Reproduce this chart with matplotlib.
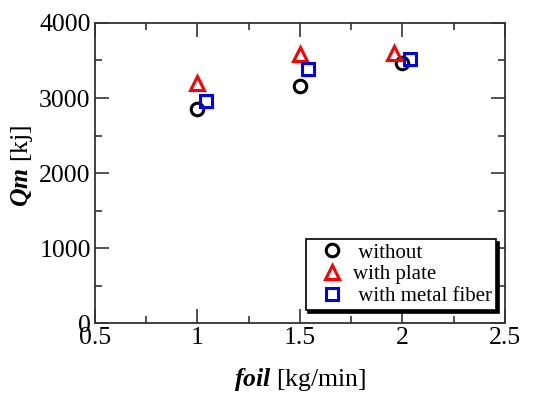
import matplotlib
matplotlib.use("Agg")
import matplotlib.pyplot as plt
from matplotlib.ticker import MultipleLocator

plt.rcParams['font.family'] = ['Liberation Serif', 'DejaVu Serif']
plt.rcParams['mathtext.fontset'] = 'custom'
plt.rcParams['mathtext.rm'] = 'Liberation Serif'
plt.rcParams['mathtext.it'] = 'Liberation Serif:italic'
plt.rcParams['mathtext.bf'] = 'Liberation Serif:bold'
plt.rcParams['mathtext.bfit'] = 'Liberation Serif:italic:bold'

# data
x_without = [1.0, 1.5, 2.0]
y_without = [2860, 3165, 3465]
x_plate = [1.0, 1.5, 1.96]
y_plate = [3205, 3590, 3600]
x_fiber = [1.04, 1.54, 2.04]
y_fiber = [2955, 3385, 3520]
labels = [' without', 'with plate', ' with metal fiber']
xticks = [0.5, 1, 1.5, 2, 2.5]
xticklabels = ['0.5', '1', '1.5', '2', '2.5']
yticks = [0, 1000, 2000, 3000, 4000]

fig = plt.figure(figsize=(5.33, 3.96), dpi=100)
ax = fig.add_axes([0.178, 0.184, 0.769, 0.758])

ms = 9
mew = 2.2
ax.plot(x_without, y_without, 'o', ms=ms, mfc='none', mec='black', mew=mew, label=labels[0])
ax.plot(x_plate, y_plate, '^', ms=ms + 1, mfc='none', mec='red', mew=mew, label=labels[1])
ax.plot(x_fiber, y_fiber, 's', ms=ms - 0.5, mfc='none', mec='blue', mew=mew, label=labels[2])

ax.set_xlim(0.5, 2.5)
ax.set_ylim(0, 4000)
ax.set_xticks(xticks)
ax.set_xticklabels(xticklabels)
ax.set_yticks(yticks)
ax.xaxis.set_minor_locator(MultipleLocator(0.25))
ax.yaxis.set_minor_locator(MultipleLocator(500))
ax.tick_params(which='both', direction='in', top=True, right=True, labelsize=18.5, width=1.2, color='#333333')
ax.tick_params(which='major', length=10, pad=3)
ax.tick_params(which='minor', length=5)
for s in ax.spines.values():
    s.set_linewidth(1.3)
    s.set_color('#333333')

ax.set_xlabel(r'$\mathbfit{foil}$ [kg/min]', fontsize=18.5, labelpad=12)
ax.set_ylabel(r'$\mathbfit{Qm}$ [kj]', fontsize=18.5)
ax.yaxis.set_label_coords(-0.146, 0.523)

leg = ax.legend(loc='lower right', bbox_to_anchor=(0.978, 0.043), borderaxespad=0,
                fancybox=False, framealpha=1, edgecolor='black', fontsize=15,
                handletextpad=-0.05, handlelength=2.1, labelspacing=0.1,
                borderpad=0.2, shadow={'color': 'black', 'alpha': 1})
leg.get_frame().set_linewidth(1.2)

fig.savefig('out.png', dpi=100)
